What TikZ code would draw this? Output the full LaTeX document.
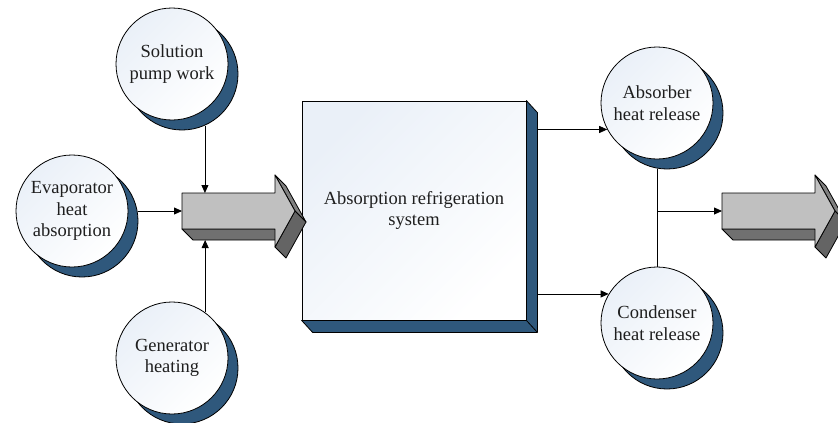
\documentclass[tikz,border=0pt]{standalone}
\usepackage{fontspec}
\setmainfont{Liberation Serif}
\usetikzlibrary{arrows.meta,calc}
\definecolor{steel}{RGB}{47,88,124}
\definecolor{paleblue}{RGB}{234,240,248}
\definecolor{facegray}{RGB}{192,192,192}
\definecolor{bottomgray}{RGB}{112,112,112}
\definecolor{uppergray}{RGB}{128,128,128}
\definecolor{lowergray}{RGB}{100,100,100}
\definecolor{ink}{RGB}{30,30,30}
\tikzset{
  disc/.style={circle,draw,line width=0.8pt,minimum size=112pt,inner sep=0pt,align=center,
    text=ink,top color=paleblue,bottom color=white,shading angle=45},
  discshadow/.style={circle,draw,line width=0.8pt,fill=steel,minimum size=112pt,inner sep=0pt},
  sysbox/.style={rectangle,draw,line width=0.8pt,minimum width=224pt,minimum height=219pt,
    align=center,text=ink,top color=paleblue,bottom color=white,shading angle=45},
  wire/.style={line width=0.8pt},
  flow/.style={line width=0.8pt,-{Triangle[length=8pt,width=7pt]}}
}
\begin{document}
\begin{tikzpicture}[x=1pt,y=-1pt,line join=round,font=\fontsize{18.5}{21.5}\selectfont]
\useasboundingbox (0,0) rectangle (838,423);
% discs with their offset shadows
\foreach \n/\p/\t in {pump/{172,64}/{Solution\\pump work},
                      evap/{72,211}/{Evaporator\\heat\\absorption},
                      gen/{172,358}/{Generator\\heating},
                      abs/{657,103}/{Absorber\\heat release},
                      cond/{657,323}/{Condenser\\heat release}} {
  \node[discshadow] (\n-sh) at ($(\p)+(10,10)$) {};
  \node[disc] (\n) at (\p) {\t};
}
% central block with its depth
\node[sysbox] (sys) at (414,210.5) {Absorption refrigeration\\system};
\filldraw[steel,draw=black,line width=0.8pt] (sys.north east) -- ++(11,12)
  -- ($(sys.south east)+(11,12)$) -- ($(sys.south west)+(11,12)$)
  -- (sys.south west) -- (sys.south east) -- cycle;
\draw[wire] (sys.south east) -- ++(11,12);
\coordinate (sys-r) at ($(sys.east)+(11,0)$);
% 3d block arrows
\foreach \n/\x in {in/182,out/722} {
  \begin{scope}[shift={(\x,193)}]
    \filldraw[fill=bottomgray,line width=0.8pt] (0,36) -- (93,36) -- (104,47) -- (11,47) -- cycle;
    \filldraw[fill=uppergray,line width=0.8pt] (93,-18) -- (113,18) -- (124,29) -- (104,-7) -- cycle;
    \filldraw[fill=lowergray,line width=0.8pt] (113,18) -- (93,54) -- (104,65) -- (124,29) -- cycle;
    \filldraw[fill=facegray,line width=0.8pt] (0,0) -- (93,0) -- (93,-18) -- (113,18)
      -- (93,54) -- (93,36) -- (0,36) -- cycle;
    \coordinate (\n-n) at (0,0);
    \coordinate (\n-w) at (0,18);
    \coordinate (\n-s) at (0,47);
  \end{scope}
}
% inputs
\draw[flow] (pump-sh.-66) -- (pump-sh.-66 |- in-n);
\draw[flow] (in-w -| evap-sh.east) -- (in-w);
\draw[flow] (gen.54) -- (gen.54 |- in-s);
% outputs
\draw[flow] (sys-r |- abs.208) -- (abs.208);
\draw[flow] (sys-r |- cond.149) -- (cond.149);
\draw[wire] (cond.north |- abs-sh.south) -- (cond.north);
\draw[flow] (cond.north |- out-w) -- (out-w);
\end{tikzpicture}
\end{document}
